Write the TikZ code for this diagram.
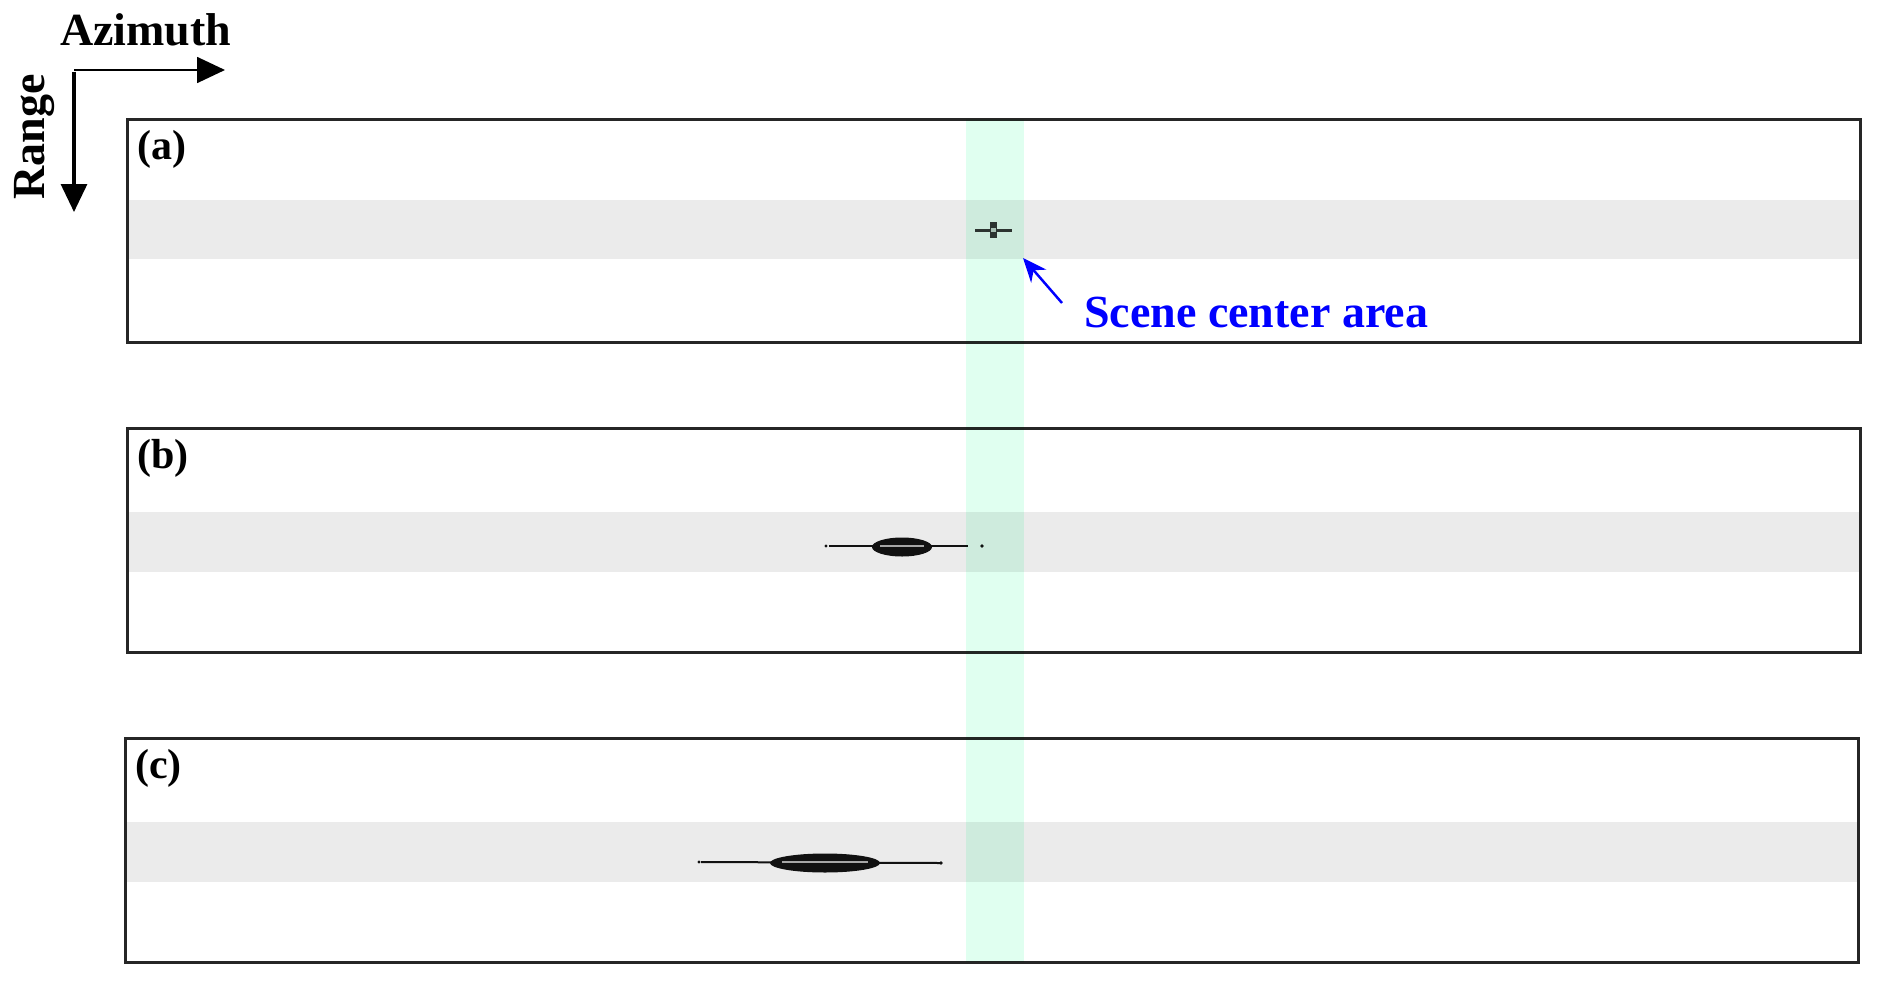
\documentclass[tikz,border=0pt]{standalone}
\usepackage{fontspec}
\setmainfont{Liberation Serif}
\usetikzlibrary{arrows.meta}
\definecolor{frame}{HTML}{262626}
\definecolor{band}{HTML}{EBEBEB}
\definecolor{mint}{HTML}{E0FFF0}
\definecolor{tgt}{HTML}{111111}
\tikzset{
  panel/.style={draw=frame, line width=3pt, fill=white},
  bandfill/.style={fill=band},
  plabel/.style={anchor=base west, inner sep=0pt, font=\bfseries\fontsize{42}{46}\selectfont},
  biglabel/.style={inner sep=0pt, font=\bfseries\fontsize{46}{52}\selectfont},
  axisarrow/.style={draw=black, -{Triangle[length=28pt,width=26pt]}},
  tline/.style={draw=tgt, line width=2pt},
}
\begin{document}
\begin{tikzpicture}[x=1pt,y=-1pt]
\useasboundingbox (0,0) rectangle (1882,988);
% panels
\fill[white] (127,119) rectangle (1860,342);
\fill[white] (127,428) rectangle (1860,652);
\fill[white] (125,738) rectangle (1858,962);
\fill[band] (127,200) rectangle (1860,259);
\fill[band] (127,512) rectangle (1860,572);
\fill[band] (125,822) rectangle (1858,882);
\draw[draw=frame, line width=3pt] (127,119) rectangle (1860,342);
\draw[draw=frame, line width=3pt] (127,428) rectangle (1860,652);
\draw[draw=frame, line width=3pt] (125,738) rectangle (1858,962);
% target (a)
\draw[draw=black!80, line width=3pt] (975,230) -- (1012,230);
\fill[black!80] (990,222) rectangle (997,238);
\fill[black!25] (991,228) rectangle (996,232);
% target (b)
\draw[tline] (829,546) -- (968,546);
\fill[tgt] (826,546) circle (1.6);
\fill[tgt] (982,546) circle (1.8);
\fill[tgt] (902,547) ellipse (30 and 9.5);
\draw[draw=black!35, line width=2pt] (880,546) -- (924,546);
% target (c)
\draw[tline] (701,862) -- (940,863);
\fill[tgt] (699,862) circle (1.6);
\fill[tgt] (941,863) circle (1.8);
\fill[tgt] (825,863) ellipse (55 and 9.5);
\draw[draw=black!35, line width=2pt] (782,862) -- (868,862);
% scene center strip (multiply overlay)
\begin{scope}[blend mode=multiply]
\fill[mint] (966,119) rectangle (1024,962);
\end{scope}
% panel labels
\node[plabel] (la) at (137,159) {(a)};
\node[plabel] (lb) at (137,468) {(b)};
\node[plabel] (lc) at (135,778) {(c)};
% scene center annotation
\node[biglabel, anchor=base west, text=blue] (scene) at (1084,327) {Scene center area};
\coordinate (arrS) at (1062,303);
\coordinate (arrE) at (1023,258);
\draw[draw=blue, line width=2.5pt, -{Stealth[length=24pt,width=20pt]}] (arrS) -- (arrE);
% axes
\coordinate (origin) at (74,70);
\coordinate (az) at (225,70);
\coordinate (rg) at (74,212);
\draw[axisarrow, line width=1.8pt] (origin) -- (az);
\draw[axisarrow, line width=3.2pt] ([yshift=-1.6pt]origin) -- (rg);
\node[biglabel, anchor=base west] (azl) at (60,45) {Azimuth};
\node[biglabel, anchor=base, rotate=90] (rgl) at (44,137) {Range};
\end{tikzpicture}
\end{document}
